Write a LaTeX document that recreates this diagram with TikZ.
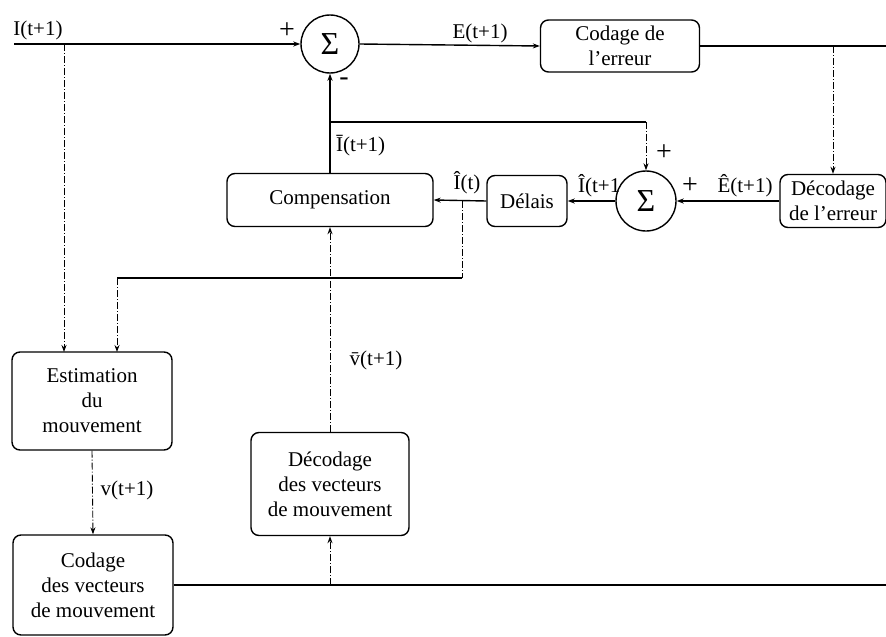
\documentclass[tikz,border=0pt]{standalone}
\usepackage{fontspec}
\setmainfont{Liberation Serif}
\usetikzlibrary{arrows.meta}

\begin{document}
\begin{tikzpicture}[x=1pt,y=-1pt,line width=1.4pt,
    font=\fontsize{21}{25}\selectfont,
    bloc/.style={draw,rounded corners=8pt,align=center,inner sep=2pt},
    somme/.style={draw,circle,minimum size=58pt,inner sep=0pt,font=\fontsize{32}{32}\selectfont},
    signe/.style={font=\fontsize{28}{28}\selectfont},
    fl/.style={-{Stealth[length=7pt,width=5pt]}},
    pointille/.style={line width=0.9pt,dash pattern=on 7pt off 2pt on 1pt off 2pt}]
  \useasboundingbox (0,0) rectangle (886,637);
  % blocs
  \node[somme] (s1) at (330,44) {Σ};
  \node[somme,minimum size=60pt] (s2) at (646,201) {Σ};
  \node[bloc,minimum width=159pt,minimum height=52pt] (coderr) at (620,46) {Codage de\\l'erreur};
  \node[bloc,minimum width=106pt,minimum height=53pt] (decerr) at (833,201) {Décodage\\de l'erreur};
  \node[bloc,minimum width=80pt,minimum height=51pt] (delais) at (527,201) {Délais};
  \node[bloc,minimum width=206pt,minimum height=53pt] (comp) at (330,200) {Compensation};
  \node[bloc,minimum width=160pt,minimum height=98pt] (estim) at (92,401) {Estimation\\du\\mouvement};
  \node[bloc,minimum width=160pt,minimum height=100pt] (codvec) at (93,585) {Codage\\des vecteurs\\de mouvement};
  \node[bloc,minimum width=158pt,minimum height=103pt] (decvec) at (330,484) {Décodage\\des vecteurs\\de mouvement};
  \coordinate (entree) at (14,44);
  \coordinate (sortie1) at (886,46);
  \coordinate (sortie2) at (886,585);
  % liaisons
  \draw[fl] (entree) -- (s1.west);
  \draw[fl] (s1.east) -- (coderr.west);
  \draw (coderr.east) -- (sortie1);
  \draw[fl,pointille] (decerr.north |- sortie1) -- (decerr.north);
  \draw[fl] (decerr.west) -- (s2.east);
  \draw[fl] (s2.west) -- (delais.east);
  \draw[fl] (delais.west) -- (comp.east);
  \draw[fl] (comp.north) -- (s1.south);
  \draw (330,122) -- (646,122);
  \draw[fl,pointille] (646,122) -- (s2.north);
  \draw[pointille] (462,201) -- (462,278);
  \draw (462,278) -- (117,278);
  \draw[fl,pointille] (117,278) -- (117,352);
  \draw[fl,pointille] (64,44) -- (64,352);
  \draw[fl,pointille] (estim.south) -- (codvec.north);
  \draw (codvec.east) -- (sortie2);
  \draw[fl,pointille] (decvec.south |- sortie2) -- (decvec.south);
  \draw[fl,pointille] (decvec.north) -- (comp.south);
  % etiquettes
  \node (l1) at (38,30) {I(t+1)};
  \node[signe] (l2) at (287,31) {+};
  \node[signe] (l3) at (344,82) {-};
  \node (l4) at (480,33) {E(t+1)};
  \node[anchor=west] (l5) at (332,146) {\=I(t+1)};
  \node[signe] (l6) at (664,153) {+};
  \node[anchor=east,inner sep=0pt] (l7) at (621,186) {\^I(t+1};
  \node[signe] (l8) at (690,186) {+};
  \node (l9) at (745,186) {\^E(t+1)};
  \node (l10) at (467,183) {\^I(t)};
  \node (l11) at (376,360) {\=v(t+1)};
  \node (l12) at (127,490) {v(t+1)};
\end{tikzpicture}
\end{document}
